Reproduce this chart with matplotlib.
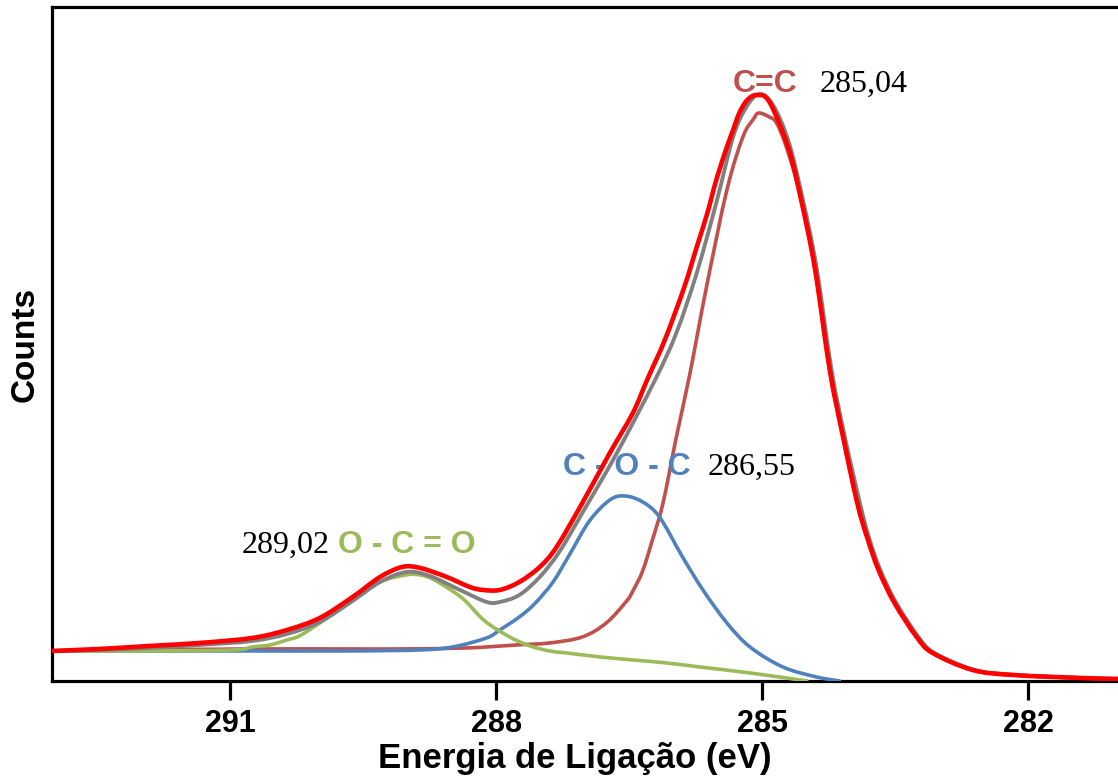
"""
C 1s XPS spectrum with fitted components
"""

import matplotlib
matplotlib.use("Agg")
import matplotlib.pyplot as plt
from matplotlib.path import Path
from matplotlib.patches import PathPatch

# peak assignments and fitted positions (eV)
peak_names = ["O - C = O", "C - O - C", "C=C"]
peak_positions = [289.02, 286.55, 285.04]

# measured spectrum
exp_energy = [293.01, 292.47, 291.91, 291.34, 290.75, 290.36, 289.99, 289.62,
              289.31, 289.06, 288.86, 288.56, 288.30, 288.15, 287.96, 287.74,
              287.51, 287.32, 287.03, 286.72, 286.46, 286.30, 286.10, 285.88,
              285.74, 285.62, 285.52, 285.40, 285.33, 285.26, 285.17, 285.06,
              284.92, 284.71, 284.58, 284.41, 284.24, 284.09, 283.93, 283.82,
              283.69, 283.51, 283.26, 283.08, 282.63, 282.18, 281.42, 280.99]
exp_counts = [30, 32, 35, 38, 43, 51, 63, 84,
              104, 114, 113, 104, 94, 91, 91, 99,
              114, 134, 178, 228, 268, 301, 341, 394,
              434, 468, 501, 534, 551, 568, 581, 586,
              579, 534, 488, 414, 311, 244, 178, 144,
              111, 78, 44, 28, 11, 6, 3, 2]

# sum of the fitted components
fit_energy = [293.01, 292.47, 291.91, 291.34, 290.75, 290.36, 289.99, 289.62,
              289.31, 289.01, 288.75, 288.41, 288.11, 287.96, 287.74, 287.51,
              287.29, 287.03, 286.64, 286.21, 285.97, 285.74, 285.52, 285.33,
              285.18, 285.03, 284.88, 284.71, 284.56, 284.39, 284.22, 284.07,
              283.90, 283.80, 283.67, 283.49, 283.24, 283.06, 282.61, 282.16,
              281.42, 280.99]
fit_counts = [30, 31, 33, 36, 40, 47, 59, 80,
              99, 109, 105, 91, 79, 79, 86, 104,
              129, 168, 228, 301, 348, 408, 478, 544,
              574, 587, 576, 541, 488, 414, 311, 244,
              178, 144, 111, 78, 44, 28, 11, 6,
              3, 2]

# C=C component
cc_energy = [293.01, 291.91, 290.78, 289.65, 289.09, 288.33, 287.77, 287.40,
             287.03, 286.76, 286.53, 286.46, 286.35, 286.24, 286.12, 285.97,
             285.82, 285.63, 285.40, 285.22, 285.10, 285.04, 284.92, 284.84,
             284.73, 284.58, 284.41, 284.24, 284.09, 283.93, 283.82, 283.69,
             283.51, 283.26, 283.08, 282.63, 282.18, 281.42, 280.99]
cc_counts = [30, 31, 32, 32, 32, 33, 36, 38,
             44, 58, 80, 90, 110, 141, 178, 244,
             306, 394, 491, 544, 562, 568, 564, 558,
             534, 488, 414, 311, 244, 178, 144, 111,
             78, 44, 28, 11, 6, 3, 2]

# C-O-C component
coc_energy = [293.01, 291.91, 290.78, 289.65, 288.86, 288.49, 288.11, 287.96,
              287.74, 287.57, 287.36, 287.17, 286.95, 286.72, 286.55, 286.35,
              286.16, 285.90, 285.67, 285.40, 285.14, 284.77, 284.39, 284.13]
coc_counts = [30, 30, 30, 30, 31, 34, 43, 51,
              64, 77, 99, 127, 160, 181, 185, 179,
              164, 124, 91, 58, 34, 14, 4, 0]

# O-C=O component
oco_energy = [293.01, 291.91, 290.97, 290.75, 290.55, 290.36, 290.22, 289.99,
              289.62, 289.31, 289.02, 288.86, 288.72, 288.53, 288.36, 288.13,
              287.85, 287.62, 287.40, 287.21, 286.83, 286.46, 286.08, 285.71,
              285.14, 284.58, 284.51]
oco_counts = [30, 30, 31, 34, 36, 41, 45, 58,
              81, 99, 106, 106, 102, 92, 81, 60,
              44, 35, 30, 28, 24, 21, 18, 14,
              8, 1, 0]

RED = "#FF0000"
GRAY = "#808080"
CC_COL = "#C0504D"
COC_COL = "#4F81BD"
OCO_COL = "#9BBB59"

SANS = "Liberation Sans"
SERIF = "Liberation Serif"


def smooth_line(ax, xs, ys, **kw):
    # spreadsheet-style smoothed line: Catmull-Rom segments through the points
    pts = list(zip(xs, ys))
    n = len(pts)
    verts = [pts[0]]
    codes = [Path.MOVETO]
    for i in range(n - 1):
        p0 = pts[i - 1] if i > 0 else pts[i]
        p1 = pts[i]
        p2 = pts[i + 1]
        p3 = pts[i + 2] if i + 2 < n else pts[i + 1]
        c1 = (p1[0] + (p2[0] - p0[0]) / 6, p1[1] + (p2[1] - p0[1]) / 6)
        c2 = (p2[0] - (p3[0] - p1[0]) / 6, p2[1] - (p3[1] - p1[1]) / 6)
        verts += [c1, c2, p2]
        codes += [Path.CURVE4] * 3
    patch = PathPatch(Path(verts, codes), fill=False, capstyle="round",
                      joinstyle="round", **kw)
    ax.add_patch(patch)
    return patch


fig = plt.figure(figsize=(11.18, 7.8), dpi=100)
ax = fig.add_axes([0.0465, 0.127, 0.9535, 0.864])

smooth_line(ax, cc_energy, cc_counts, edgecolor=CC_COL, lw=2.6, zorder=2)
smooth_line(ax, coc_energy, coc_counts, edgecolor=COC_COL, lw=2.6, zorder=3)
smooth_line(ax, oco_energy, oco_counts, edgecolor=OCO_COL, lw=2.6, zorder=4)
smooth_line(ax, fit_energy, fit_counts, edgecolor=GRAY, lw=2.8, zorder=5)
smooth_line(ax, exp_energy, exp_counts, edgecolor=RED, lw=3.3, zorder=6)

ax.set_xlim(293.01, 280.99)
ax.set_ylim(0, 674)

# peak labels
cc_i = peak_names.index("C=C")
coc_i = peak_names.index("C - O - C")
oco_i = peak_names.index("O - C = O")


def fmt(v):
    return f"{v:.2f}".replace(".", ",")


ax.text(284.97, 589, peak_names[cc_i], color=CC_COL, fontsize=23,
        fontweight="bold", family=SANS, ha="center", va="baseline")
ax.text(284.35, 589, fmt(peak_positions[cc_i]), color="black", fontsize=23,
        family=SERIF, ha="left", va="baseline")

ax.text(286.53, 206, peak_names[coc_i], color=COC_COL, fontsize=23,
        fontweight="bold", family=SANS, ha="center", va="baseline")
ax.text(285.62, 206, fmt(peak_positions[coc_i]), color="black", fontsize=23,
        family=SERIF, ha="left", va="baseline")

ax.text(289.79, 128, peak_names[oco_i], color=OCO_COL, fontsize=23,
        fontweight="bold", family=SANS, ha="left", va="baseline")
ax.text(289.88, 128, fmt(peak_positions[oco_i]), color="black", fontsize=23,
        family=SERIF, ha="right", va="baseline")

# axes styling
for side in ["top", "left", "bottom"]:
    ax.spines[side].set_linewidth(2.3)
    ax.spines[side].set_color("black")
ax.spines["right"].set_visible(False)

ax.set_xticks([291, 288, 285, 282])
ax.set_yticks([])
ax.tick_params(axis="x", direction="out", length=14, width=2.3, pad=6,
               labelsize=22)
for lab in ax.get_xticklabels():
    lab.set_fontfamily(SANS)
    lab.set_fontweight("bold")

ax.set_xlabel("Energia de Ligação (eV)", fontsize=25, fontweight="bold",
              family=SANS)
ax.xaxis.set_label_coords(0.49, -0.091)
ax.set_ylabel("Counts", fontsize=24, fontweight="bold", family=SANS,
              labelpad=8)

fig.savefig("out.png", dpi=100)
